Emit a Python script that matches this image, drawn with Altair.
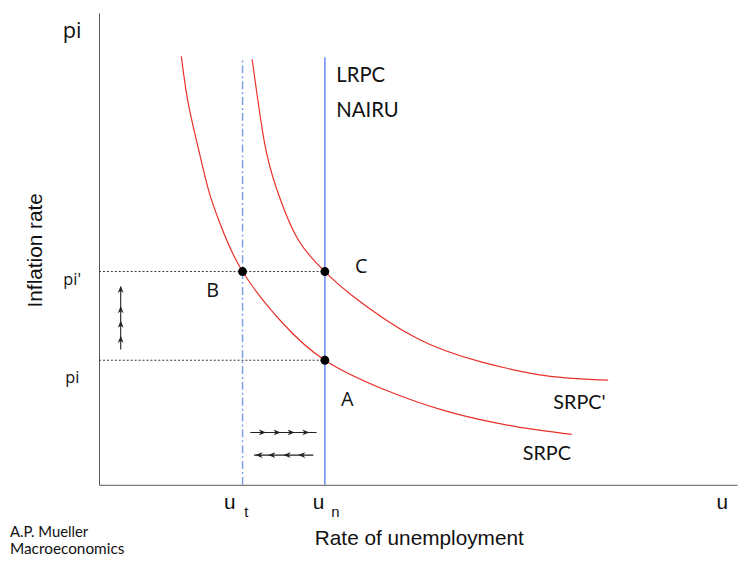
import altair as alt
import pandas as pd

# ---- data (economic units: x = unemployment 0..100, y = inflation 0..100) ----
u_t = 22.5
u_n = 35.4
pi_low = 26.4
pi_high = 45.2
line_top = 90.6

srpc_x = [12.9, 13.95, 15.5, 17.2, 19.1, 22.5, 28.7, 35.4, 44.5, 54.7, 65.1, 74.1]
srpc_y = [90.8, 81.1, 71.7, 62.3, 54.9, 45.2, 34.4, 26.4, 20.3, 15.5, 12.4, 10.7]
srpc2_x = [24.0, 25.9, 27.8, 31.2, 35.4, 39.5, 49.6, 60.0, 70.2, 79.8]
srpc2_y = [90.2, 72.8, 62.9, 52.0, 45.2, 40.3, 31.2, 26.0, 23.1, 22.2]

pts_x = [u_t, u_n, u_n]
pts_y = [pi_high, pi_high, pi_low]

# arrows
v_arrow_x = 3.4
v_arrow_y = [28.7, 41.9]
v_heads_y = [41.4, 37.1, 34.0, 30.8]
r_arrow_y = 11.1
r_arrow_x = [23.7, 34.1]
r_heads_x = [25.6, 27.9, 30.1, 32.4]
l_arrow_y = 6.3
l_arrow_x = [24.3, 33.6]
l_heads_x = [25.1, 27.1, 29.5, 31.8]

# labels
os_text = ["pi", "pi'", "pi", "B", "C", "A"]
os_x = [-4.2, -4.2, -4.2, 17.8, 41.1, 38.9]
os_y = [94.8, 42.4, 21.6, 39.8, 44.9, 16.8]
os_size = [22, 16.5, 16.5, 20, 20, 20]

ls_text = ["u", "t", "u", "n", "u", "Rate of unemployment"]
ls_x = [20.5, 23.1, 34.4, 37.05, 97.7, 50.2]
ls_y = [-5.2, -6.9, -5.2, -6.9, -5.2, -12.8]
ls_size = [21, 15, 21, 15, 21, 21]

lato_text = ["LRPC", "NAIRU", "SRPC'", "SRPC", "A.P. Mueller", "Macroeconomics"]
lato_x = [37.2, 37.2, 71.2, 66.4, -13.95, -13.95]
lato_y = [85.3, 78.0, 16.1, 5.2, -11.1, -14.7]
lato_size = [20.5, 20.5, 20, 20, 15, 15.5]

ylab_text = ["Inflation rate"]
ylab_x = [-9.0]
ylab_y = [49.7]

# ---- helpers ----
XS = alt.Scale(domain=[0, 100], nice=False, zero=False)
YS = alt.Scale(domain=[0, 100], nice=False, zero=False)

AX = alt.Axis(domain=True, ticks=False, labels=False, grid=False, title=None,
              domainColor="#555555", domainWidth=1)


def X(f="x"):
    return alt.X(f"{f}:Q", scale=XS, axis=AX)


def Y(f="y"):
    return alt.Y(f"{f}:Q", scale=YS, axis=AX)


RED = "#e8302a"
BLUE = "#6d8ff0"
BLUE2 = "#7f9ee8"

curves = pd.DataFrame({
    "x": srpc_x + srpc2_x,
    "y": srpc_y + srpc2_y,
    "c": ["SRPC"] * len(srpc_x) + ["SRPC'"] * len(srpc2_x),
    "o": list(range(len(srpc_x))) + list(range(len(srpc2_x))),
})

curve_layer = alt.Chart(curves).mark_line(color=RED, strokeWidth=1.2, interpolate="natural").encode(
    x=X(), y=Y(), detail="c:N", order="o:Q"
)

lrpc = alt.Chart(pd.DataFrame({"x": [u_n], "y": [0], "y2": [line_top]})).mark_rule(
    color=BLUE, strokeWidth=1.6
).encode(x=X(), y=Y(), y2="y2:Q")

ut_line = alt.Chart(pd.DataFrame({"x": [u_t], "y": [0], "y2": [line_top]})).mark_rule(
    color=BLUE2, strokeWidth=1.5, strokeDash=[8, 3, 2, 3]
).encode(x=X(), y=Y(), y2="y2:Q")

dotted = alt.Chart(pd.DataFrame({"x": [0, 0], "x2": [u_n, u_n], "y": [pi_high, pi_low]})).mark_rule(
    color="#333333", strokeWidth=1, strokeDash=[2, 2]
).encode(x=X(), x2="x2:Q", y=Y())

points = alt.Chart(pd.DataFrame({"x": pts_x, "y": pts_y})).mark_point(
    filled=True, shape="circle", size=80, color="black", opacity=1
).encode(x=X(), y=Y())

arrow_lines = alt.Chart(pd.DataFrame({
    "x": [v_arrow_x, r_arrow_x[0], l_arrow_x[0]],
    "x2": [v_arrow_x, r_arrow_x[1], l_arrow_x[1]],
    "y": [v_arrow_y[0], r_arrow_y, l_arrow_y],
    "y2": [v_arrow_y[1], r_arrow_y, l_arrow_y],
})).mark_rule(color="#222222", strokeWidth=1.1).encode(x=X(), x2="x2:Q", y=Y(), y2="y2:Q")

UP = "M0,-1L0.75,0.9L0,0.35L-0.75,0.9Z"
RIGHT = "M1,0L-0.9,0.75L-0.35,0L-0.9,-0.75Z"
LEFT = "M-1,0L0.9,0.75L0.35,0L0.9,-0.75Z"

heads_up = alt.Chart(pd.DataFrame({"x": [v_arrow_x] * 4, "y": v_heads_y})).mark_point(
    shape=UP, filled=True, size=60, color="#222222", opacity=1
).encode(x=X(), y=Y())
heads_r = alt.Chart(pd.DataFrame({"x": r_heads_x, "y": [r_arrow_y] * 4})).mark_point(
    shape=RIGHT, filled=True, size=60, color="#222222", opacity=1
).encode(x=X(), y=Y())
heads_l = alt.Chart(pd.DataFrame({"x": l_heads_x, "y": [l_arrow_y] * 4})).mark_point(
    shape=LEFT, filled=True, size=60, color="#222222", opacity=1
).encode(x=X(), y=Y())

txt_os = alt.Chart(pd.DataFrame({"x": os_x, "y": os_y, "t": os_text, "s": os_size})).mark_text(
    font="Open Sans", align="center", baseline="alphabetic", color="#111111"
).encode(x=X(), y=Y(), text="t:N", size=alt.Size("s:Q", scale=None, legend=None))

txt_ls = alt.Chart(pd.DataFrame({"x": ls_x, "y": ls_y, "t": ls_text, "s": ls_size})).mark_text(
    font="Liberation Sans", align="center", baseline="alphabetic", color="#111111"
).encode(x=X(), y=Y(), text="t:N", size=alt.Size("s:Q", scale=None, legend=None))

txt_lato = alt.Chart(pd.DataFrame({"x": lato_x, "y": lato_y, "t": lato_text, "s": lato_size})).mark_text(
    font="Lato", align="left", baseline="alphabetic", color="#111111"
).encode(x=X(), y=Y(), text="t:N", size=alt.Size("s:Q", scale=None, legend=None))

txt_ylab = alt.Chart(pd.DataFrame({"x": ylab_x, "y": ylab_y, "t": ylab_text})).mark_text(
    font="Liberation Sans", fontSize=21, angle=270, align="center", baseline="alphabetic",
    color="#111111"
).encode(x=X(), y=Y(), text="t:N")

chart = alt.layer(
    curve_layer, dotted, ut_line, lrpc, points, arrow_lines, heads_up, heads_r, heads_l,
    txt_os, txt_ls, txt_lato, txt_ylab
).properties(
    width=645, height=477,
    autosize=alt.AutoSizeParams(type="none"),
    padding={"left": 92, "top": 2, "right": 3, "bottom": 75},
).configure_view(stroke=None)

chart.save("out.html", embed_options={"renderer": "svg", "actions": False})
